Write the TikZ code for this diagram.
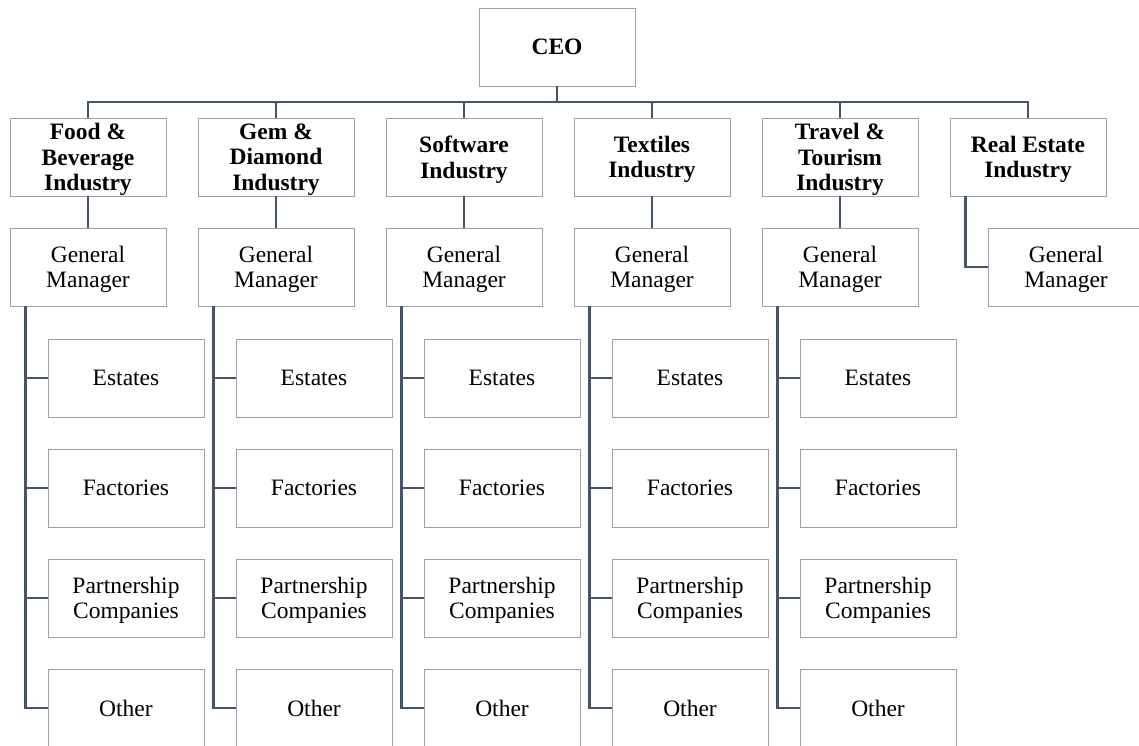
\documentclass[tikz,border=0pt]{standalone}
\usepackage{amsmath}
\usepackage{fontspec}
\usepackage{tikz}
\setmainfont{Liberation Serif}

\definecolor{boxgray}{RGB}{160,160,160}
\definecolor{linkblue}{RGB}{68,84,106}

\tikzset{
  unit/.style = {draw = boxgray, line width = 0.9pt, minimum width = 156pt, minimum height = 78pt,
    inner sep = 0pt, align = center, font = \fontsize{23.5}{25.5}\selectfont},
  industry/.style = {unit, font = \fontsize{23.5}{25.5}\selectfont\bfseries},
  lines/.style = {text depth = -1pt},
  link/.style = {draw = linkblue, line width = 2.8pt}
}

\begin{document}
\begin{tikzpicture}[x = 1pt, y = -1pt]
  \useasboundingbox (0, 0) rectangle (1139, 745);

  \node[industry] (ceo) at (557, 47) {CEO};
  \coordinate (bus) at (557, 102);

  \node[industry, lines] (food) at (88, 157) {Food \&\\Beverage\\Industry};
  \node[industry, lines] (gem) at (276, 157) {Gem \&\\Diamond\\Industry};
  \node[industry, lines] (soft) at (464, 157) {Software\\Industry};
  \node[industry, lines] (textile) at (652, 157) {Textiles\\Industry};
  \node[industry, lines] (travel) at (840, 157) {Travel \&\\Tourism\\Industry};
  \node[industry, lines] (real) at (1028, 157) {Real Estate\\Industry};

  \node[unit, lines] (foodgm) at (88, 267) {General\\Manager};
  \node[unit, lines] (gemgm) at (276, 267) {General\\Manager};
  \node[unit, lines] (softgm) at (464, 267) {General\\Manager};
  \node[unit, lines] (textilegm) at (652, 267) {General\\Manager};
  \node[unit, lines] (travelgm) at (840, 267) {General\\Manager};
  \node[unit, lines] (realgm) at (1066, 267) {General\\Manager};

  \node[unit] (foodest) at (126, 378) {Estates};
  \node[unit] (foodfac) at (126, 488) {Factories};
  \node[unit, lines] (foodpart) at (126, 598) {Partnership\\Companies};
  \node[unit] (foodoth) at (126, 708) {Other};

  \node[unit] (gemest) at (314, 378) {Estates};
  \node[unit] (gemfac) at (314, 488) {Factories};
  \node[unit, lines] (gempart) at (314, 598) {Partnership\\Companies};
  \node[unit] (gemoth) at (314, 708) {Other};

  \node[unit] (softest) at (502, 378) {Estates};
  \node[unit] (softfac) at (502, 488) {Factories};
  \node[unit, lines] (softpart) at (502, 598) {Partnership\\Companies};
  \node[unit] (softoth) at (502, 708) {Other};

  \node[unit] (textileest) at (690, 378) {Estates};
  \node[unit] (textilefac) at (690, 488) {Factories};
  \node[unit, lines] (textilepart) at (690, 598) {Partnership\\Companies};
  \node[unit] (textileoth) at (690, 708) {Other};

  \node[unit] (travelest) at (878, 378) {Estates};
  \node[unit] (travelfac) at (878, 488) {Factories};
  \node[unit, lines] (travelpart) at (878, 598) {Partnership\\Companies};
  \node[unit] (traveloth) at (878, 708) {Other};

  \draw[link] (ceo.south) -- (bus);
  \draw[link] (food.north) |- (bus);
  \draw[link] (gem.north) |- (bus);
  \draw[link] (soft.north) |- (bus);
  \draw[link] (textile.north) |- (bus);
  \draw[link] (travel.north) |- (bus);
  \draw[link] (real.north) |- (bus);

  \draw[link] (food) -- (foodgm);
  \draw[link] (gem) -- (gemgm);
  \draw[link] (soft) -- (softgm);
  \draw[link] (textile) -- (textilegm);
  \draw[link] (travel) -- (travelgm);
  \draw[link] ([xshift = 16pt]real.south west) |- (realgm.west);

  \draw[link] ([xshift = 16pt]foodgm.south west) |- (foodest.west);
  \draw[link] ([xshift = 16pt]foodgm.south west) |- (foodfac.west);
  \draw[link] ([xshift = 16pt]foodgm.south west) |- (foodpart.west);
  \draw[link] ([xshift = 16pt]foodgm.south west) |- (foodoth.west);

  \draw[link] ([xshift = 16pt]gemgm.south west) |- (gemest.west);
  \draw[link] ([xshift = 16pt]gemgm.south west) |- (gemfac.west);
  \draw[link] ([xshift = 16pt]gemgm.south west) |- (gempart.west);
  \draw[link] ([xshift = 16pt]gemgm.south west) |- (gemoth.west);

  \draw[link] ([xshift = 16pt]softgm.south west) |- (softest.west);
  \draw[link] ([xshift = 16pt]softgm.south west) |- (softfac.west);
  \draw[link] ([xshift = 16pt]softgm.south west) |- (softpart.west);
  \draw[link] ([xshift = 16pt]softgm.south west) |- (softoth.west);

  \draw[link] ([xshift = 16pt]textilegm.south west) |- (textileest.west);
  \draw[link] ([xshift = 16pt]textilegm.south west) |- (textilefac.west);
  \draw[link] ([xshift = 16pt]textilegm.south west) |- (textilepart.west);
  \draw[link] ([xshift = 16pt]textilegm.south west) |- (textileoth.west);

  \draw[link] ([xshift = 16pt]travelgm.south west) |- (travelest.west);
  \draw[link] ([xshift = 16pt]travelgm.south west) |- (travelfac.west);
  \draw[link] ([xshift = 16pt]travelgm.south west) |- (travelpart.west);
  \draw[link] ([xshift = 16pt]travelgm.south west) |- (traveloth.west);
\end{tikzpicture}
\end{document}
